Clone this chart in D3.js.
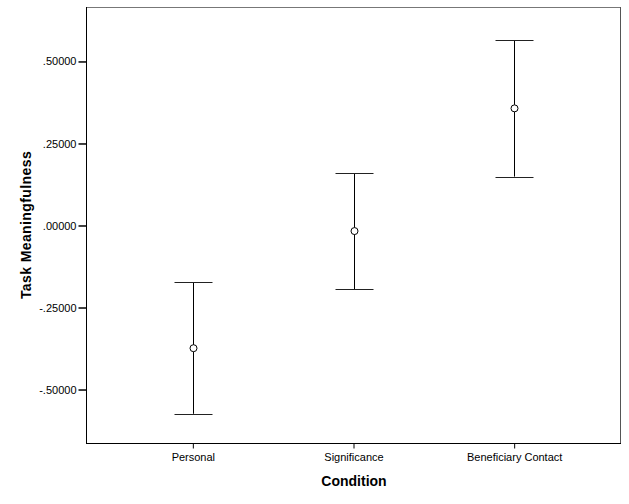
<!DOCTYPE html>
<html><head><meta charset="utf-8">
<script src="https://cdn.jsdelivr.net/npm/d3@7"></script>
<style>body{margin:0;background:#fff}svg{display:block}</style>
</head><body>
<script>
const categories = ["Personal", "Significance", "Beneficiary Contact"];
const means = [-0.374, -0.017, 0.357];
const upper = [-0.173, 0.159, 0.565];
const lower = [-0.574, -0.195, 0.149];
const yTicks = [-0.5, -0.25, 0, 0.25, 0.5];

const W = 629, H = 504;
const m = {left: 86, right: 8, top: 7, bottom: 61};
const svg = d3.select("body").append("svg").attr("width", W).attr("height", H);

const x = d3.scalePoint().domain(categories).range([m.left, W - m.right]).padding(0.665);
const y = d3.scaleLinear().domain([-0.663, 0.666]).range([H - m.bottom, m.top]);

const font = "'Liberation Sans', Arial, sans-serif";

// frame
svg.append("line").attr("x1", m.left).attr("x2", W - m.right).attr("y1", m.top + 0.5).attr("y2", m.top + 0.5).attr("stroke", "#777");
svg.append("line").attr("x1", W - m.right - 0.5).attr("x2", W - m.right - 0.5).attr("y1", m.top).attr("y2", H - m.bottom).attr("stroke", "#555");

const fmt = d => {
  const v = Math.abs(d).toFixed(5).replace(/^0\./, ".");
  return (d < 0 ? "-" : "") + v;
};

const yAxis = svg.append("g").attr("transform", `translate(${m.left + 0.5},0)`)
  .call(d3.axisLeft(y).tickValues(yTicks).tickSize(8).tickPadding(2).tickFormat(fmt));
yAxis.select(".domain").attr("stroke", "#000").attr("d", `M0,${m.top}V${H - m.bottom}`);
yAxis.selectAll(".tick line").attr("stroke", "#000").attr("stroke-width", 1.5);
yAxis.selectAll("text").attr("font-family", font).attr("font-size", 11).attr("fill", "#000");

const xAxis = svg.append("g").attr("transform", `translate(0,${H - m.bottom + 0.5})`)
  .call(d3.axisBottom(x).tickSize(5).tickPadding(5));
xAxis.select(".domain").attr("stroke", "#000").attr("d", `M${m.left},0H${W - m.right}`);
xAxis.selectAll(".tick line").attr("stroke", "#000");
xAxis.selectAll("text").attr("font-family", font).attr("font-size", 11).attr("fill", "#000");

// labels
svg.append("text").attr("x", 354).attr("y", 486).attr("text-anchor", "middle")
  .attr("font-family", font).attr("font-weight", "bold").attr("font-size", 14).text("Condition");
svg.append("text").attr("transform", `translate(31,${(m.top + H - m.bottom) / 2}) rotate(-90)`)
  .attr("text-anchor", "middle").attr("font-family", font).attr("font-weight", "bold").attr("font-size", 14)
  .attr("letter-spacing", 0.4)
  .text("Task Meaningfulness");

// error bars
const data = categories.map((c, i) => ({c, m: means[i], u: upper[i], l: lower[i]}));
const g = svg.append("g");
const capW = 19;
data.forEach(d => {
  const cx = Math.round(x(d.c)) + 0.5;
  g.append("line").attr("x1", cx).attr("x2", cx).attr("y1", y(d.u)).attr("y2", y(d.l)).attr("stroke", "#000");
  [d.u, d.l].forEach(v => g.append("line").attr("x1", cx - capW).attr("x2", cx + capW)
    .attr("y1", Math.round(y(v)) + 0.5).attr("y2", Math.round(y(v)) + 0.5).attr("stroke", "#222"));
  g.append("circle").attr("cx", cx).attr("cy", y(d.m)).attr("r", 3.5)
    .attr("fill", "#fff").attr("stroke", "#000");
});
</script>
</body></html>
